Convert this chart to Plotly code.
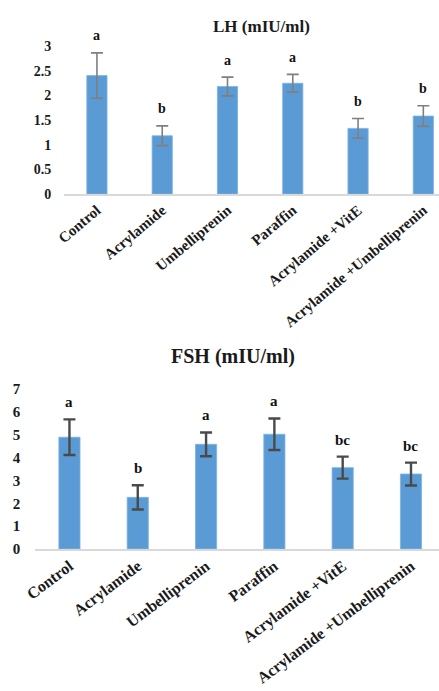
import plotly.graph_objects as go

# Treatment groups shared by both panels
groups = ["Control", "Acrylamide", "Umbelliprenin", "Paraffin",
          "Acrylamide +VitE", "Acrylamide +Umbelliprenin"]

# LH (mIU/ml): mean, error and significance letters
lh_mean = [2.40, 1.18, 2.18, 2.245, 1.33, 1.58]
lh_err = [0.46, 0.20, 0.19, 0.18, 0.20, 0.21]
lh_letters = ["a", "b", "a", "a", "b", "b"]

# FSH (mIU/ml): mean, error and significance letters
fsh_mean = [4.89, 2.26, 4.58, 5.02, 3.56, 3.28]
fsh_err = [0.78, 0.53, 0.52, 0.69, 0.48, 0.50]
fsh_letters = ["a", "b", "a", "a", "bc", "bc"]

W, H = 439, 691
BAR = "#5B9BD5"
SERIF = "Liberation Serif"

fig = go.Figure()

fig.add_trace(go.Bar(
    x=groups, y=lh_mean, xaxis="x", yaxis="y",
    marker=dict(color=BAR, line=dict(color="#7FB2E0", width=0.8)),
    error_y=dict(type="data", array=lh_err, visible=True,
                 color="#7F7F7F", thickness=1.6, width=6),
    showlegend=False, hoverinfo="skip",
))
fig.add_trace(go.Bar(
    x=groups, y=fsh_mean, xaxis="x2", yaxis="y2",
    marker=dict(color=BAR, line=dict(color="#7FB2E0", width=0.8)),
    error_y=dict(type="data", array=fsh_err, visible=True,
                 color="#4A4A4A", thickness=2.4, width=6),
    showlegend=False, hoverinfo="skip",
))

tick_font = dict(family=SERIF, size=14, color="#1A1A1A", weight="bold")
cat_font = dict(family=SERIF, size=15, color="#1A1A1A", weight="bold")

common_x = dict(type="category", showline=True, linecolor="#D9D9D9",
                linewidth=1.5, ticks="", showgrid=False, zeroline=False,
                tickfont=cat_font, automargin=False)
common_y = dict(showline=False, showgrid=False, zeroline=False, ticks="",
                tickfont=tick_font, automargin=False)

fig.update_layout(
    width=W, height=H,
    margin=dict(l=0, r=0, t=0, b=0),
    paper_bgcolor="white", plot_bgcolor="white",
    bargap=0.69,
    xaxis=dict(common_x, domain=[64.3 / W, 1], range=[-0.5, 5.24],
               anchor="y", tickangle=-40),
    yaxis=dict(common_y, domain=[1 - 194 / H, 1 - 46 / H], range=[0, 3],
               dtick=0.5, anchor="x", ticklabelstandoff=12),
    xaxis2=dict(common_x, domain=[35.3 / W, 1], range=[-0.5, 5.41],
                anchor="y2", tickangle=-37,
                tickfont=dict(cat_font, size=16)),
    yaxis2=dict(common_y, domain=[1 - 549 / H, 1 - 389 / H], range=[0, 7],
                dtick=1, anchor="x2", ticklabelstandoff=14,
                tickfont=dict(tick_font, size=15)),
)

annotations = [
    dict(text="LH (mIU/ml)", x=261 / W, y=1 - 26 / H, xref="paper",
         yref="paper", showarrow=False, xanchor="center", yanchor="middle",
         font=dict(family=SERIF, size=17, color="#1A1A1A", weight="bold")),
    dict(text="FSH (mIU/ml)", x=233 / W, y=1 - 357 / H, xref="paper",
         yref="paper", showarrow=False, xanchor="center", yanchor="middle",
         font=dict(family=SERIF, size=20, color="#1A1A1A", weight="bold")),
]

# Significance letters above each error bar
for g, m, e, t in zip(groups, lh_mean, lh_err, lh_letters):
    annotations.append(dict(text=t, x=g, y=m + e, xref="x", yref="y",
                            showarrow=False, yshift=17, yanchor="middle",
                            font=dict(family=SERIF, size=14, color="#111",
                                      weight="bold")))
for g, m, e, t in zip(groups, fsh_mean, fsh_err, fsh_letters):
    annotations.append(dict(text=t, x=g, y=m + e, xref="x2", yref="y2",
                            showarrow=False, yshift=17, yanchor="middle",
                            font=dict(family=SERIF, size=15, color="#111",
                                      weight="bold")))

fig.update_layout(annotations=annotations)

fig.write_html("out.html")
